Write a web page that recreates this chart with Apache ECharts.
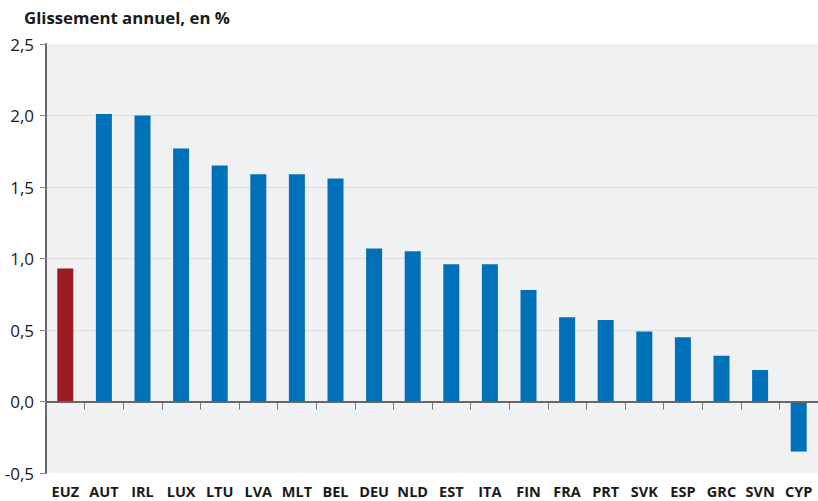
<!DOCTYPE html>
<html>
<head>
<meta charset="utf-8">
<script src="https://cdn.jsdelivr.net/npm/echarts@6/dist/echarts.min.js"></script>
<style>
  html, body { margin: 0; padding: 0; background: #fff; }
  #chart { width: 818px; height: 501px; }
</style>
</head>
<body>
<div id="chart"></div>
<script>
// Glissement annuel par pays
var countries = ['EUZ', 'AUT', 'IRL', 'LUX', 'LTU', 'LVA', 'MLT', 'BEL', 'DEU', 'NLD',
                 'EST', 'ITA', 'FIN', 'FRA', 'PRT', 'SVK', 'ESP', 'GRC', 'SVN', 'CYP'];
var values = [0.93, 2.01, 2.00, 1.77, 1.65, 1.59, 1.59, 1.56, 1.07, 1.05,
              0.96, 0.96, 0.78, 0.59, 0.57, 0.49, 0.45, 0.32, 0.22, -0.35];
var highlight = ['EUZ'];

var blue = '#0070b8';
var red = '#9c1b20';
var ink = '#1a1a1a';
var grid = '#dcdde0';
var none = 'rgba(0,0,0,0)';

var chart = echarts.init(document.getElementById('chart'), null, { renderer: 'svg' });
chart.setOption({
  animation: false,
  textStyle: { fontFamily: 'Open Sans' },
  title: {
    text: 'Glissement annuel, en %',
    left: 19, top: 4,
    textStyle: { fontFamily: 'Open Sans', fontSize: 16.8, fontWeight: 'bold', color: ink }
  },
  grid: {
    left: 46, right: 0, top: 44, bottom: 28,
    show: true, backgroundColor: '#f0f1f3', borderWidth: 0
  },
  xAxis: {
    type: 'category',
    data: countries,
    offset: 2,
    axisLine: { show: false },
    axisTick: { show: true, length: 8, lineStyle: { color: '#777', width: 1 } },
    axisLabel: { color: ink, fontSize: 14.5, fontWeight: 'bold', margin: 9, interval: 0 }
  },
  yAxis: {
    type: 'value',
    min: -0.5, max: 2.5, interval: 0.5,
    axisLine: { show: true, lineStyle: { color: '#666', width: 2 } },
    axisTick: { show: true, length: 6, lineStyle: { color: '#888' } },
    // no line on the top and bottom edges of the plot
    splitLine: { lineStyle: { color: [none, grid, grid, grid, grid, grid, none], width: 1 } },
    axisLabel: {
      color: ink, fontSize: 17, margin: 12,
      formatter: function (v) { return v.toFixed(1).replace('.', ','); }
    }
  },
  series: [{
    type: 'bar',
    barWidth: 16,
    data: values.map(function (v, i) {
      return { value: v, itemStyle: { color: highlight.indexOf(countries[i]) >= 0 ? red : blue } };
    }),
    markLine: {
      silent: true, symbol: 'none', label: { show: false },
      lineStyle: { color: '#666', width: 2, type: 'solid' },
      data: [{ yAxis: 0 }]
    }
  }]
});
</script>
</body>
</html>
